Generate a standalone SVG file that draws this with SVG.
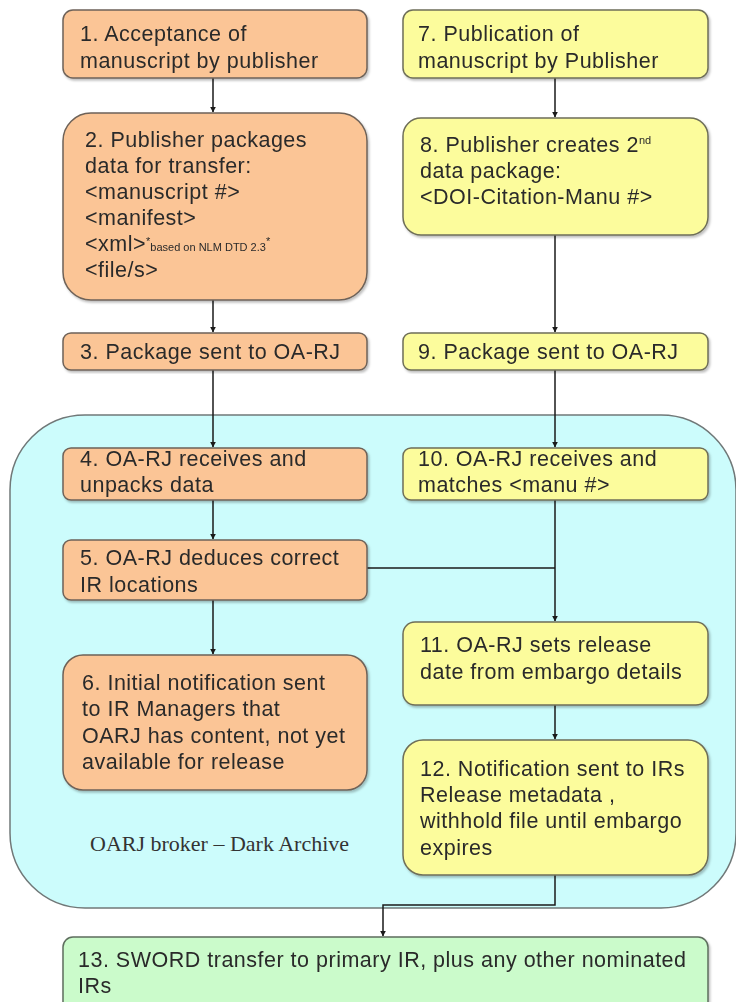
<svg xmlns="http://www.w3.org/2000/svg" width="736" height="1002" viewBox="0 0 736 1002">
<defs>
<style>
.t{font-family:"Liberation Sans",Arial,sans-serif;font-size:21.5px;letter-spacing:0.5px;fill:#2a2a2a}
.s{font-size:11px;letter-spacing:0}
.o{fill:#fbc596;stroke:#6e6258;stroke-width:1.5}
.y{fill:#fcfc9c;stroke:#6e6e58;stroke-width:1.5}
.g{fill:#cbfbcb;stroke:#5e6e5e;stroke-width:1.5}
.c{fill:none;stroke:#1a1a1a;stroke-width:1.5}
.lbl{font-family:"Liberation Serif","Times New Roman",serif;font-size:22px;fill:#333}
</style>
<marker id="ah" viewBox="0 0 10 10" refX="9" refY="5" markerWidth="6" markerHeight="6" orient="auto" markerUnits="userSpaceOnUse">
<path d="M0,0 L10,5 L0,10 z" fill="#1a1a1a"/>
</marker>
<filter id="sh" x="-5%" y="-5%" width="110%" height="115%">
<feDropShadow dx="1.5" dy="2" stdDeviation="1.2" flood-color="#000" flood-opacity="0.25"/>
</filter>
</defs>
<rect width="736" height="1002" fill="#fff"/>
<g id="broker">
<path d="M85,415 H661 A75,75 0 0 1 736,490 V833 A75,75 0 0 1 661,908 H85 A75,75 0 0 1 10,833 V490 A75,75 0 0 1 85,415 Z" fill="#ccfcfc" stroke="#707878" stroke-width="1.5"/>
<text class="lbl" x="90" y="851">OARJ broker – Dark Archive</text>
</g>
<g id="connectors">
<line class="c" x1="213" y1="78" x2="213" y2="112" marker-end="url(#ah)"/>
<line class="c" x1="213" y1="300" x2="213" y2="332" marker-end="url(#ah)"/>
<line class="c" x1="213" y1="370" x2="213" y2="447" marker-end="url(#ah)"/>
<line class="c" x1="213" y1="500" x2="213" y2="539" marker-end="url(#ah)"/>
<line class="c" x1="213" y1="600" x2="213" y2="654" marker-end="url(#ah)"/>
<line class="c" x1="555" y1="78" x2="555" y2="117" marker-end="url(#ah)"/>
<line class="c" x1="555" y1="235" x2="555" y2="332" marker-end="url(#ah)"/>
<line class="c" x1="555" y1="370" x2="555" y2="447" marker-end="url(#ah)"/>
<line class="c" x1="555" y1="500" x2="555" y2="621" marker-end="url(#ah)"/>
<line class="c" x1="367" y1="568" x2="555" y2="568"/>
<line class="c" x1="555" y1="705" x2="555" y2="739" marker-end="url(#ah)"/>
<polyline class="c" points="555,875 555,905 383,905 383,936" marker-end="url(#ah)"/>
</g>
<g id="n1" filter="url(#sh)">
<rect class="o" x="63" y="10" width="304" height="68" rx="10"/>
<text class="t" x="80" y="41">1. Acceptance of</text>
<text class="t" x="80" y="68">manuscript by publisher</text>
</g>
<g id="n2" filter="url(#sh)">
<rect class="o" x="63" y="113" width="304" height="187" rx="28"/>
<text class="t" x="85" y="147">2. Publisher packages</text>
<text class="t" x="85" y="173">data for transfer:</text>
<text class="t" x="85" y="199">&lt;manuscript #&gt;</text>
<text class="t" x="85" y="225">&lt;manifest&gt;</text>
<text class="t" x="85" y="251">&lt;xml&gt;<tspan class="s" dy="-6">*</tspan><tspan class="s" dy="6">based on NLM DTD 2.3</tspan><tspan class="s" dy="-6">*</tspan></text>
<text class="t" x="85" y="277">&lt;file/s&gt;</text>
</g>
<g id="n3" filter="url(#sh)">
<rect class="o" x="63" y="333" width="304" height="37" rx="8"/>
<text class="t" x="80" y="359">3. Package sent to OA-RJ</text>
</g>
<g id="n4" filter="url(#sh)">
<rect class="o" x="63" y="448" width="304" height="52" rx="8"/>
<text class="t" x="80" y="466">4. OA-RJ receives and</text>
<text class="t" x="80" y="492">unpacks data</text>
</g>
<g id="n5" filter="url(#sh)">
<rect class="o" x="63" y="540" width="304" height="60" rx="8"/>
<text class="t" x="80" y="565">5. OA-RJ deduces correct</text>
<text class="t" x="80" y="592">IR locations</text>
</g>
<g id="n6" filter="url(#sh)">
<rect class="o" x="63" y="655" width="304" height="135" rx="20"/>
<text class="t" x="82" y="690">6. Initial notification sent</text>
<text class="t" x="82" y="716">to IR Managers that</text>
<text class="t" x="82" y="743">OARJ has content, not yet</text>
<text class="t" x="82" y="769">available for release</text>
</g>
<g id="n7" filter="url(#sh)">
<rect class="y" x="403" y="10" width="305" height="68" rx="10"/>
<text class="t" x="418" y="41">7. Publication of</text>
<text class="t" x="418" y="68">manuscript by Publisher</text>
</g>
<g id="n8" filter="url(#sh)">
<rect class="y" x="403" y="118" width="305" height="117" rx="18"/>
<text class="t" x="420" y="152">8. Publisher creates 2<tspan class="s" dy="-8">nd</tspan></text>
<text class="t" x="420" y="178">data package:</text>
<text class="t" x="420" y="204">&lt;DOI-Citation-Manu #&gt;</text>
</g>
<g id="n9" filter="url(#sh)">
<rect class="y" x="403" y="333" width="305" height="37" rx="8"/>
<text class="t" x="418" y="359">9. Package sent to OA-RJ</text>
</g>
<g id="n10" filter="url(#sh)">
<rect class="y" x="403" y="448" width="305" height="52" rx="8"/>
<text class="t" x="418" y="466">10. OA-RJ receives and</text>
<text class="t" x="418" y="492">matches &lt;manu #&gt;</text>
</g>
<g id="n11" filter="url(#sh)">
<rect class="y" x="403" y="622" width="305" height="83" rx="12"/>
<text class="t" x="420" y="652">11. OA-RJ sets release</text>
<text class="t" x="420" y="679">date from embargo details</text>
</g>
<g id="n12" filter="url(#sh)">
<rect class="y" x="403" y="740" width="305" height="135" rx="20"/>
<text class="t" x="420" y="776">12. Notification sent to IRs</text>
<text class="t" x="420" y="802">Release metadata ,</text>
<text class="t" x="420" y="828">withhold file until embargo</text>
<text class="t" x="420" y="855">expires</text>
</g>
<g id="n13" filter="url(#sh)">
<rect class="g" x="63" y="937" width="645" height="80" rx="10"/>
<text class="t" x="78" y="967">13. SWORD transfer to primary IR, plus any other nominated</text>
<text class="t" x="78" y="993">IRs</text>
</g>
</svg>
